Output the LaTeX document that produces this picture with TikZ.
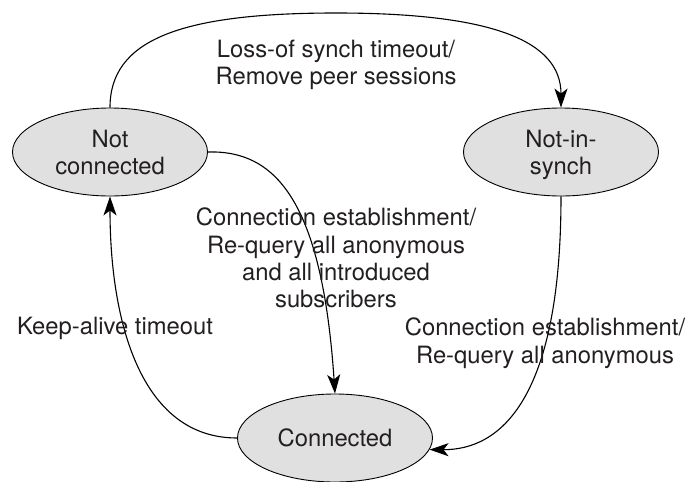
\documentclass[tikz,border=0pt]{standalone}
\usepackage{fontspec}
\setmainfont{TeX Gyre Heros}
\usetikzlibrary{arrows.meta,shapes.geometric}
\definecolor{statefill}{RGB}{224,224,224}
\definecolor{inktext}{RGB}{35,31,32}
\tikzset{
  state/.style={ellipse, draw=black, line width=0.9pt, fill=statefill,
    minimum width=195pt, minimum height=88pt, inner sep=0pt,
    align=center, text depth=0pt, text=inktext,
    font=\fontsize{23.8pt}{27.3pt}\selectfont},
  lbl/.style={anchor=north, inner sep=0pt, align=center, text=inktext,
    font=\fontsize{23.8pt}{27.3pt}\selectfont},
  conn/.style={line width=1.1pt, draw=black,
    -{Stealth[length=19pt, width=13pt, inset=5pt]}}
}
\begin{document}
\begin{tikzpicture}[x=1pt,y=-1pt]
\useasboundingbox (0,0) rectangle (689,482);
\node[state] (nc) at (110,152) {Not\\connected};
\node[state] (ns) at (561,152) {Not-in-\\synch};
\node[state] (c) at (335,438) {Connected};
\coordinate (peak) at (336,13);
% Not connected -> Not-in-synch
\draw[conn] (nc.north) .. controls (110,40) and (180,13) .. (peak)
  .. controls (490,13) and (561,40) .. (ns.north);
% Not connected -> Connected
\draw[conn] (nc.east) .. controls (275,150) and (322,200) .. (c.north);
% Not-in-synch -> Connected
\draw[conn] (ns.south) .. controls (561,400) and (500,450) .. (c.-7);
% Connected -> Not connected
\draw[conn] (c.west) .. controls (140,438) and (110,320) .. (nc.south);
% labels
\node[lbl] (l1) at (336,40) {Loss-of synch timeout/\\Remove peer sessions};
\node[lbl] (l2) at (336,208) {Connection establishment/\\Re-query all anonymous\\and all introduced\\subscribers};
\node[lbl] (l3) at (545,318) {Connection establishment/\\Re-query all anonymous};
\node[lbl] (l4) at (115,317) {Keep-alive timeout};
\end{tikzpicture}
\end{document}
